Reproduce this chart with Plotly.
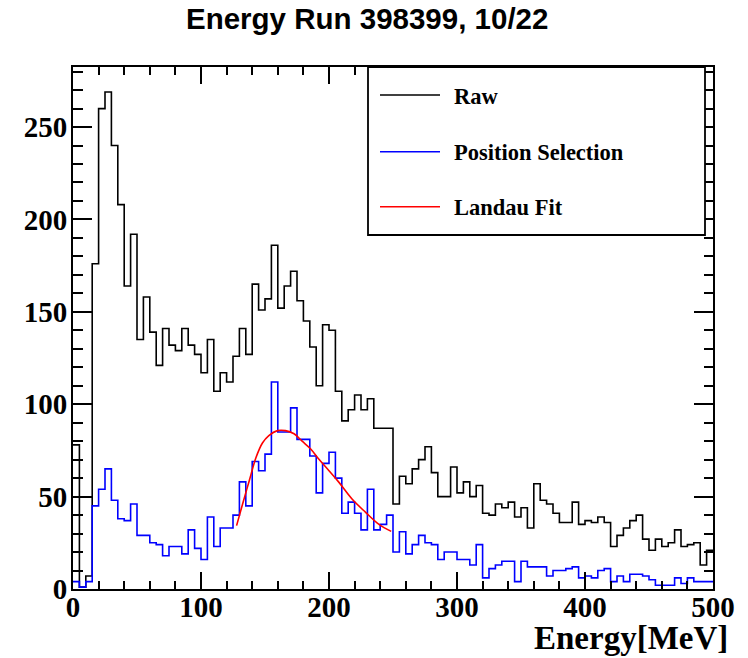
import plotly.graph_objects as go

# ---------------- data ----------------
bin_width_mev = 5
raw_counts = [78, 1, 7, 176, 260, 269, 240, 208, 164, 192,
              135, 158, 139, 121, 141, 132, 129, 141, 132, 127,
              117, 135, 107, 117, 112, 126, 141, 127, 165, 151,
              157, 186, 152, 164, 172, 156, 145, 131, 110, 143,
              140, 107, 91, 97, 105, 97, 103, 87, 87, 87,
              46, 61, 57, 65, 70, 77, 63, 50, 50, 66,
              52, 58, 50, 56, 41, 40, 46, 44, 47, 39,
              44, 33, 57, 48, 46, 41, 36, 36, 47, 35,
              37, 36, 39, 36, 23, 29, 33, 37, 40, 27,
              21, 27, 23, 25, 32, 23, 24, 25, 13, 21]
sel_counts = [4, 1, 4, 45, 54, 65, 48, 38, 37, 46,
              29, 29, 25, 24, 18, 23, 23, 19, 32, 22,
              16, 39, 23, 33, 33, 40, 58, 45, 69, 64,
              73, 112, 85, 85, 98, 81, 81, 72, 52, 68,
              74, 60, 41, 47, 41, 32, 54, 32, 35, 40,
              20, 31, 19, 24, 29, 25, 24, 16, 20, 20,
              16, 16, 13, 24, 6, 11, 13, 15, 15, 4,
              15, 12, 12, 12, 7, 10, 10, 11, 12, 6,
              7, 6, 10, 11, 4, 7, 4, 8, 8, 7,
              5, 2, 2, 2, 6, 3, 6, 4, 4, 4]
fit_energy = [127.8, 132.5, 137.7, 142.9, 148.0, 153.0, 159.7, 166.0, 172.7,
              179.0, 185.7, 192.0, 200.0, 207.8, 218.0, 228.6, 239.0, 248.6]
fit_value = [34.3, 46.0, 58.6, 71.0, 79.0, 83.0, 85.7, 85.7, 84.0,
             80.0, 75.8, 70.3, 64.0, 57.7, 48.7, 41.5, 35.0, 31.2]

title_text = "Energy Run 398399, 10/22"
x_title = "Energy[MeV]"
legend_labels = ["Raw", "Position Selection", "Landau Fit"]
x_tick_vals = [0, 100, 200, 300, 400, 500]
y_tick_vals = [0, 50, 100, 150, 200, 250]

# ---------------- figure ----------------
edges = [i * bin_width_mev for i in range(len(raw_counts) + 1)]

fig = go.Figure()
fig.add_trace(go.Scatter(x=edges, y=raw_counts + [raw_counts[-1]], mode="lines",
                         line=dict(color="black", width=1.6, shape="hv"),
                         showlegend=False, hoverinfo="skip"))
fig.add_trace(go.Scatter(x=edges, y=sel_counts + [sel_counts[-1]], mode="lines",
                         line=dict(color="#0000ff", width=1.6, shape="hv"),
                         showlegend=False, hoverinfo="skip"))
fig.add_trace(go.Scatter(x=fit_energy, y=fit_value, mode="lines",
                         line=dict(color="#ff0000", width=1.6, shape="spline"),
                         showlegend=False, hoverinfo="skip"))

W, H = 748, 658
L, R, T, B = 73, 35, 67, 69
pw, ph = W - L - R, H - T - B

def px_x(p):
    return (p - L) / pw

def px_y(p):
    return (H - B - p) / ph

tickfont = dict(family="Liberation Serif", size=29, color="black", weight="bold")

fig.update_xaxes(range=[0, 500], tickvals=x_tick_vals, ticks="inside", ticklen=17,
                 tickwidth=1.5, tickcolor="black", showline=True, linewidth=2,
                 linecolor="black", mirror="allticks", showgrid=False, zeroline=False,
                 tickfont=tickfont, ticklabelstandoff=-9,
                 minor=dict(dtick=20, ticks="inside", ticklen=8, tickwidth=1.5,
                            tickcolor="black", showgrid=False))
fig.update_yaxes(range=[0, 282.5], tickvals=y_tick_vals, ticks="inside", ticklen=19,
                 tickwidth=1.5, tickcolor="black", showline=True, linewidth=2,
                 linecolor="black", mirror="allticks", showgrid=False, zeroline=False,
                 tickfont=tickfont, ticklabelstandoff=-2,
                 minor=dict(dtick=10, ticks="inside", ticklen=9.5, tickwidth=1.5,
                            tickcolor="black", showgrid=False))

shapes = []
annotations = []

# legend box
shapes.append(dict(type="rect", xref="paper", yref="paper",
                   x0=px_x(368), x1=px_x(705), y0=px_y(235), y1=px_y(67),
                   line=dict(color="black", width=1.8), fillcolor="white", layer="above"))
leg_colors = ["black", "#0000ff", "#ff0000"]
leg_y = [95, 151.7, 206.7]
for lab, col, yy in zip(legend_labels, leg_colors, leg_y):
    shapes.append(dict(type="line", xref="paper", yref="paper",
                       x0=px_x(380), x1=px_x(440), y0=px_y(yy), y1=px_y(yy),
                       line=dict(color=col, width=1.6), layer="above"))
    annotations.append(dict(xref="paper", yref="paper", x=px_x(452), y=px_y(yy + 1),
                            text=lab, showarrow=False, xanchor="left", yanchor="middle",
                            font=dict(family="Liberation Serif", size=22.5, color="black",
                                      weight="bold")))

# title
annotations.append(dict(xref="paper", yref="paper", x=px_x(366.5), y=px_y(19),
                        text=title_text, showarrow=False, xanchor="center", yanchor="middle",
                        font=dict(family="Liberation Sans", size=29.5, color="black",
                                  weight="bold")))
# x-axis title
annotations.append(dict(xref="paper", yref="paper", x=px_x(730), y=px_y(638),
                        text=x_title, showarrow=False, xanchor="right", yanchor="middle",
                        font=dict(family="Liberation Serif", size=33, color="black",
                                  weight="bold")))

fig.update_layout(width=W, height=H, margin=dict(l=L, r=R, t=T, b=B),
                  paper_bgcolor="white", plot_bgcolor="white",
                  shapes=shapes, annotations=annotations, showlegend=False)

fig.write_html("out.html", config={"displayModeBar": False},
               post_script="document.body.style.margin='0';document.body.style.overflow='hidden';")
